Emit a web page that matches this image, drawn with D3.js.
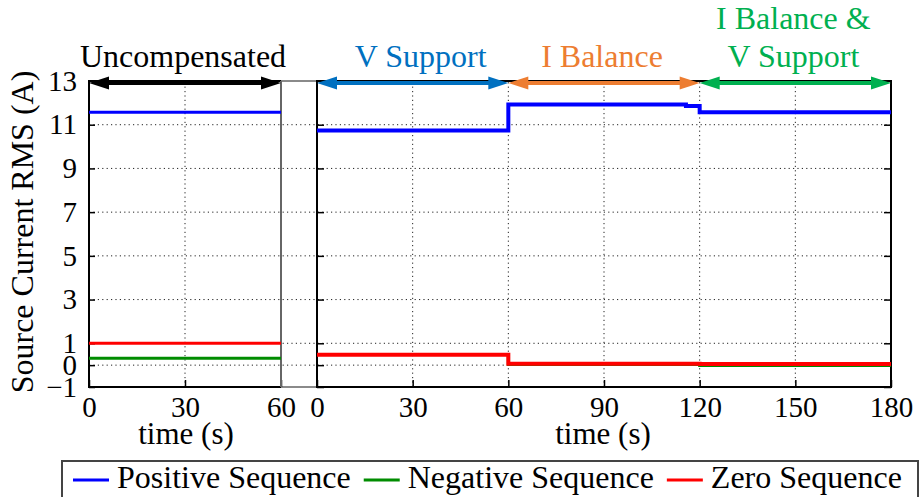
<!DOCTYPE html>
<html>
<head>
<meta charset="utf-8">
<script src="https://cdn.jsdelivr.net/npm/d3@7"></script>
<style>
body{margin:0;background:#fff;}
text{font-family:"Liberation Serif","Times New Roman",serif;fill:#000;}
</style>
</head>
<body>
<svg id="chart" width="922" height="497"></svg>
<script>
// shared y axis, two time axes (uncompensated run | compensated run)
const yTicks = [-1, 0, 1, 3, 5, 7, 9, 11, 13];
const yGrid = [0, 1, 3, 5, 7, 9, 11];
const leftTicks = [0, 30, 60];
const rightTicks = [0, 30, 60, 90, 120, 150, 180];

// uncompensated (s, A rms)
const leftTime = [0, 60];
const leftPositive = [11.57, 11.57];
const leftNegative = [0.32, 0.32];
const leftZero = [1.0, 1.0];

// compensated, step changes at 60 and 120 s
const rightTime = [0, 60, 60, 115.7, 115.7, 120, 120, 180];
const rightPositive = [10.73, 10.73, 11.93, 11.93, 11.86, 11.86, 11.57, 11.57];
const rightNegative = [0.49, 0.49, 0.03, 0.03, 0.03, 0.03, -0.02, -0.02];
const rightZero = [0.48, 0.48, 0.06, 0.06, 0.06, 0.06, 0.05, 0.05];

const modeNames = [["V Support"], ["I Balance"], ["I Balance &", "V Support"]];
const modeStart = [0, 60, 120];
const modeEnd = [60, 120, 180];
const modeColors = ["#0070C0", "#ED7D31", "#00B050"];

const seriesNames = ["Positive Sequence", "Negative Sequence", "Zero Sequence"];
const seriesColors = ["#0000FF", "#008C00", "#FF0000"];

const svg = d3.select("#chart");
const y = d3.scaleLinear().domain([-1, 13]).range([387, 81]);
const xL = d3.scaleLinear().domain([0, 60]).range([89, 281]);
const xR = d3.scaleLinear().domain([0, 180]).range([317, 891]);

// gap between the two panels: white with grey outline
let gap = svg.append("g").attr("stroke", "#8a8a8a").attr("stroke-width", 2);
gap.append("line").attr("x1", xL(60)).attr("x2", xR(0)).attr("y1", y(13)).attr("y2", y(13));
gap.append("line").attr("x1", xL(60)).attr("x2", xR(0)).attr("y1", y(-1)).attr("y2", y(-1));

// dotted grid
let grid = svg.append("g").attr("stroke", "#222").attr("stroke-width", 1).attr("stroke-dasharray", "1.2,3.2");
yGrid.forEach(function(v){
	grid.append("line").attr("x1", xL(0)).attr("x2", xR(180)).attr("y1", y(v)).attr("y2", y(v));
});
grid.append("line").attr("x1", xL(30)).attr("x2", xL(30)).attr("y1", y(-1)).attr("y2", y(13));
rightTicks.slice(1, -1).forEach(function(t){
	grid.append("line").attr("x1", xR(t)).attr("x2", xR(t)).attr("y1", y(-1)).attr("y2", y(13));
});

function styleAxis(g, size){
	g.select(".domain").remove();
	g.selectAll(".tick line").attr("stroke", "#000").attr("stroke-width", 1.5);
	g.selectAll(".tick text").attr("font-size", size).attr("font-family", "Liberation Serif, Times New Roman, serif");
}

svg.append("g").attr("transform", "translate(" + xL(0) + ",0)")
	.call(d3.axisLeft(y).tickValues(yTicks).tickSizeInner(-6).tickSizeOuter(0).tickPadding(12))
	.call(styleAxis, 29);
svg.append("g").attr("transform", "translate(" + xR(0) + ",0)")
	.call(d3.axisLeft(y).tickValues(yTicks).tickSizeInner(-7).tickSizeOuter(0).tickFormat(""))
	.call(styleAxis, 29);
svg.append("g").attr("transform", "translate(" + xR(180) + ",0)")
	.call(d3.axisRight(y).tickValues(yTicks).tickSizeInner(-7).tickSizeOuter(0).tickFormat(""))
	.call(styleAxis, 29);
svg.append("g").attr("transform", "translate(0," + y(-1) + ")")
	.call(d3.axisBottom(xL).tickValues(leftTicks).tickSizeInner(-7).tickSizeOuter(0).tickPadding(9))
	.call(styleAxis, 29);
svg.append("g").attr("transform", "translate(0," + y(-1) + ")")
	.call(d3.axisBottom(xR).tickValues(rightTicks).tickSizeInner(-7).tickSizeOuter(0).tickPadding(9))
	.call(styleAxis, 29);

// panel frames
let frame = svg.append("g").attr("fill", "none").attr("stroke-width", 2);
frame.append("path")
	.attr("d", "M" + xL(60) + "," + y(13) + "H" + xL(0) + "V" + y(-1) + "H" + xL(60))
	.attr("stroke", "#000");
frame.append("line").attr("x1", xL(60)).attr("x2", xL(60)).attr("y1", y(13)).attr("y2", y(-1)).attr("stroke", "#666");
frame.append("rect")
	.attr("x", xR(0)).attr("y", y(13)).attr("width", xR(180) - xR(0)).attr("height", y(-1) - y(13))
	.attr("stroke", "#000");

// data
function drawSeries(xs, times, values, color, width){
	let line = d3.line().x(function(d, i){ return xs(times[i]); }).y(function(d){ return y(d); });
	svg.append("path").datum(values).attr("d", line)
		.attr("fill", "none").attr("stroke", color).attr("stroke-width", width);
}
[leftPositive, leftNegative, leftZero].forEach(function(s, i){
	drawSeries(xL, leftTime, s, seriesColors[i], 3);
});
[rightPositive, rightNegative, rightZero].forEach(function(s, i){
	drawSeries(xR, rightTime, s, seriesColors[i], i === 1 ? 3 : 4);
});

// mode arrows on top
function arrow(x0, x1, yy, color){
	let head = 20, half = 6.5;
	svg.append("line").attr("x1", x0 + head - 2).attr("x2", x1 - head + 2).attr("y1", yy).attr("y2", yy)
		.attr("stroke", color).attr("stroke-width", 4);
	svg.append("path").attr("fill", color)
		.attr("d", "M" + x0 + "," + yy + "L" + (x0 + head) + "," + (yy - half) + "L" + (x0 + head) + "," + (yy + half) + "Z");
	svg.append("path").attr("fill", color)
		.attr("d", "M" + x1 + "," + yy + "L" + (x1 - head) + "," + (yy - half) + "L" + (x1 - head) + "," + (yy + half) + "Z");
}
function label(lines, cx, color){
	lines.forEach(function(t, i){
		svg.append("text").attr("x", cx).attr("y", 67 - (lines.length - 1 - i) * 38)
			.attr("text-anchor", "middle").attr("font-size", 32).style("fill", color).text(t);
	});
}
arrow(xL(0), xL(60), 83, "#000");
label(["Uncompensated"], (xL(0) + xL(60)) / 2 - 2, "#000");
modeNames.forEach(function(name, i){
	arrow(xR(modeStart[i]), xR(modeEnd[i]), 83, modeColors[i]);
	label(name, (xR(modeStart[i]) + xR(modeEnd[i])) / 2 + (i === 0 ? 8 : -2), modeColors[i]);
});

// axis titles
svg.append("text").attr("transform", "translate(33," + ((y(-1) + y(13)) / 2 - 2) + ") rotate(-90)")
	.attr("text-anchor", "middle").attr("font-size", 32).text("Source Current RMS (A)");
svg.append("text").attr("x", (xL(0) + xL(60)) / 2 + 1).attr("y", 444)
	.attr("text-anchor", "middle").attr("font-size", 31).text("time (s)");
svg.append("text").attr("x", (xR(0) + xR(180)) / 2 - 1).attr("y", 444)
	.attr("text-anchor", "middle").attr("font-size", 31).text("time (s)");

// legend
svg.append("rect").attr("x", 62).attr("y", 461).attr("width", 856).attr("height", 60)
	.attr("fill", "#fff").attr("stroke", "#444").attr("stroke-width", 2);
let lx = 73;
seriesNames.forEach(function(name, i){
	svg.append("line").attr("x1", lx).attr("x2", lx + 36).attr("y1", 480).attr("y2", 480)
		.attr("stroke", seriesColors[i]).attr("stroke-width", 3);
	let t = svg.append("text").attr("x", lx + 44).attr("y", 488).attr("font-size", 32).text(name);
	lx = lx + 44 + t.node().getComputedTextLength() + 13;
});
</script>
</body>
</html>
